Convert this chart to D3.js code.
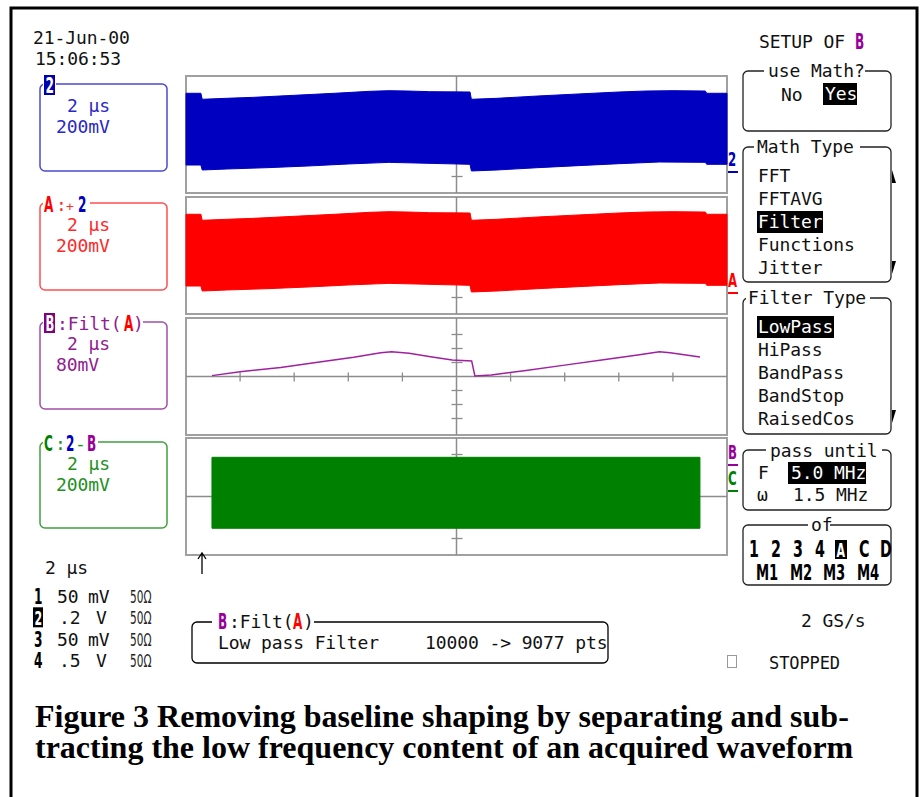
<!DOCTYPE html>
<html><head><meta charset="utf-8">
<script src="https://cdn.jsdelivr.net/npm/d3@7"></script>
<style>body{margin:0;background:#fff}</style>
</head><body>
<svg id="c" width="924" height="797"></svg>
<script>
// ---------------- DATA ----------------
// time in microseconds (2 us/div, 10 div), amplitude in mV
const timeTicks = [0, 2, 4, 6, 8, 10, 12, 14, 16, 18, 20];
// Channel 2 (and A = +2): envelope of the high-frequency burst
const ch2TopT  = [0, 0.55, 0.6, 1.5, 2.5, 4, 5.5, 6.8, 7.5, 8.2, 9, 10.5, 10.55, 11.5, 13, 14.5, 16, 17, 18, 19.2, 19.25, 20];
const ch2TopV  = [589, 589, 503, 517, 531, 560, 589, 617, 626, 621, 612, 607, 503, 517, 550, 579, 607, 621, 626, 621, 589, 589];
const ch2BotT  = [0, 0.55, 0.6, 1.5, 3, 4.5, 6, 7.5, 8.5, 10.5, 10.55, 11.5, 13, 14.5, 16, 17.5, 19.2, 19.25, 20];
const ch2BotV  = [-436, -436, -507, -493, -474, -450, -421, -398, -407, -426, -521, -507, -474, -445, -417, -393, -398, -426, -426];
// B = Filt(A): low-pass filtered trace
const filtT = [0.96, 2.0, 3.5, 5.0, 6.2, 7.2, 7.6, 8.25, 9.04, 9.84, 10.56, 10.68, 11.28, 12.5, 14, 15.5, 16.7, 17.5, 17.9, 19.0];
const filtV = [5, 27, 52, 84, 110, 136, 142, 133, 113, 94, 89, 3, 9, 33, 65, 97, 123, 142, 136, 111];
// C = 2 - B
const chCT   = [0.96, 19.0];
const chCTop = [560, 560];
const chCBot = [-454, -454];
// volts per division of each trace panel
const panelVdiv = [200, 200, 80, 200];
const mathTypes = ["FFT", "FFTAVG", "Filter", "Functions", "Jitter"];
const filterTypes = ["LowPass", "HiPass", "BandPass", "BandStop", "RaisedCos"];
const chanRows = [["1", "50", "mV"], ["2", ".2", "V"], ["3", "50", "mV"], ["4", ".5", "V"]];
const ofRow1 = ["1", "2", "3", "4", "A", "C", "D"];
const ofRow2 = ["M1", "M2", "M3", "M4"];

// ---------------- DRAW ----------------
const svg = d3.select("#c");
const MONO = "'DejaVu Sans Mono', monospace";
const SANS = "'DejaVu Sans', sans-serif";
const BLUE = "#0000c0", RED = "#ff0000", PURP = "#990099", GRN = "#008000";

svg.append("rect").attr("width", 924).attr("height", 797).attr("fill", "#fff");
svg.append("rect").attr("x", 11).attr("y", 8).attr("width", 906).attr("height", 820)
  .attr("fill", "none").attr("stroke", "#000").attr("stroke-width", 3);

function txt(x, y, s, o = {}) {
  return svg.append("text").attr("x", x).attr("y", y).text(s)
    .attr("font-family", o.ff || MONO).attr("font-size", o.fs || 18)
    .attr("font-weight", o.fw || "normal").attr("fill", o.fill || "#111")
    .attr("letter-spacing", o.ls != null ? o.ls : -0.1)
    .attr("xml:space", "preserve").style("white-space", "pre");
}
// narrow tall bold glyphs (scope label font)
function btxt(x, y, s, fill, fs, sx, o = {}) {
  return svg.append("text").attr("transform", `translate(${x},${y}) scale(${sx || 0.55},1)`)
    .text(s).attr("font-family", SANS).attr("font-weight", o.fw || "bold")
    .attr("font-size", fs || 22).attr("fill", fill).attr("letter-spacing", o.ls || 0)
    .attr("xml:space", "preserve").style("white-space", "pre");
}
function inv(x, y, w, h, s, bg, o = {}) {
  svg.append("rect").attr("x", x).attr("y", y).attr("width", w).attr("height", h).attr("fill", bg);
  return txt(x + (o.dx || 2), y + h - (o.dy || 4), s, Object.assign({ fill: "#fff" }, o));
}
function invB(x, y, w, h, s, bg, fs, sx) {
  svg.append("rect").attr("x", x).attr("y", y).attr("width", w).attr("height", h).attr("fill", bg);
  return btxt(x + 1.5, y + h - 2.5, s, "#fff", fs || 20, sx || 0.55);
}

// x scale shared by all panels
const X0 = 186, X1 = 727;
const x = d3.scaleLinear().domain([0, 20]).range([X0, X1]);
const panelTops = [76, 197, 318, 438];
const PH = 117;
const ys = panelTops.map((t, i) => d3.scaleLinear()
  .domain([-4 * panelVdiv[i], 4 * panelVdiv[i]])
  .range([t + PH / 2 + 56, t + PH / 2 - 56]));

// panels + graticule
panelTops.forEach((t, i) => {
  const g = svg.append("g");
  const y = ys[i];
  g.append("rect").attr("x", X0).attr("y", t).attr("width", X1 - X0).attr("height", PH)
    .attr("fill", "#fff").attr("stroke", "#a0a0a0").attr("stroke-width", 2);
  g.append("line").attr("x1", X0).attr("x2", X1).attr("y1", y(0)).attr("y2", y(0))
    .attr("stroke", "#8c8c8c").attr("stroke-width", 1.5);
  g.append("line").attr("x1", x(10)).attr("x2", x(10)).attr("y1", t).attr("y2", t + PH)
    .attr("stroke", "#8c8c8c").attr("stroke-width", 1.5);
  timeTicks.filter(v => v > 0 && v < 20 && v !== 10).forEach(v => {
    g.append("line").attr("x1", x(v)).attr("x2", x(v)).attr("y1", y(0) - 4).attr("y2", y(0) + 5)
      .attr("stroke", "#8c8c8c").attr("stroke-width", 1.3);
  });
  [-3, -2, -1, 1, 2, 3].forEach(d => {
    g.append("line").attr("x1", x(10) - 5).attr("x2", x(10) + 6)
      .attr("y1", y(d * panelVdiv[i])).attr("y2", y(d * panelVdiv[i]))
      .attr("stroke", "#8c8c8c").attr("stroke-width", 1.3);
  });
});

// band traces
function band(i, topT, topV, botT, botV, color) {
  const pts = topT.map((t, k) => [x(t), ys[i](topV[k])])
    .concat(botT.map((t, k) => [x(t), ys[i](botV[k])]).reverse());
  svg.append("path").attr("d", d3.line()(pts) + "Z").attr("fill", color)
    .attr("stroke", color).attr("stroke-width", 1);
}
band(0, ch2TopT, ch2TopV, ch2BotT, ch2BotV, BLUE);
band(1, ch2TopT, ch2TopV, ch2BotT, ch2BotV, RED);
band(3, chCT, chCTop, chCT, chCBot, GRN);
svg.append("path")
  .attr("d", d3.line().x((d, k) => x(filtT[k])).y((d, k) => ys[2](filtV[k]))(filtV))
  .attr("fill", "none").attr("stroke", "#a020a0").attr("stroke-width", 1.5);

// trace markers at right of panels
function marker(x0, yb, s, color) {
  btxt(x0, yb, s, color, 19, 0.62);
  svg.append("line").attr("x1", x0).attr("x2", x0 + 10).attr("y1", yb + 6).attr("y2", yb + 6)
    .attr("stroke", color).attr("stroke-width", 2);
}
marker(728, 166, "2", BLUE);
marker(728, 287, "A", RED);
marker(728, 459, "B", PURP);
marker(728, 485, "C", GRN);

// date/time
txt(33, 44, "21-Jun-00");
txt(35, 65, "15:06:53");

// left channel boxes
function box(x0, y0, x1, y1, color, sw) {
  svg.append("rect").attr("x", x0).attr("y", y0).attr("width", x1 - x0).attr("height", y1 - y0)
    .attr("rx", 5).attr("fill", "none").attr("stroke", color).attr("stroke-width", sw || 1.5);
}
function gap(x0, y0, w) {
  svg.append("rect").attr("x", x0).attr("y", y0 - 3).attr("width", w).attr("height", 6).attr("fill", "#fff");
}
// Box 2
box(40, 84, 167, 171, "#4a4ad0");
gap(43, 84, 13);
invB(44, 75, 11, 20, "2", "#0000b0", 21, 0.58);
txt(67, 112, "2 µs", { fill: "#2828c8" });
txt(56, 133, "200mV", { fill: "#2828c8" });
// Box A
box(40, 203, 167, 290, "#ff5050");
gap(43, 203, 47);
btxt(44, 212, "A", RED, 22);
txt(56, 211, ":", { fill: "#ff3030" });
txt(66, 211, "+", { fill: "#ff3030", fs: 13 });
btxt(78, 212, "2", BLUE, 22);
txt(67, 231, "2 µs", { fill: "#ff2828" });
txt(56, 252, "200mV", { fill: "#ff2828" });
// Box B
box(40, 322, 167, 409, "#a050a8");
gap(43, 322, 100);
invB(44, 313, 11, 20, "B", "#800080", 21, 0.55);
txt(57, 330, ":Filt(", { fill: "#902090" });
btxt(124, 331, "A", RED, 22);
txt(133, 330, ")", { fill: "#902090" });
txt(67, 350, "2 µs", { fill: "#902090" });
txt(56, 371, "80mV", { fill: "#902090" });
// Box C
box(40, 442, 167, 528, "#40a040");
gap(43, 442, 55);
btxt(44, 451, "C", GRN, 22);
txt(55, 450, ":", { fill: "#209020" });
btxt(66, 451, "2", BLUE, 22);
txt(75, 450, "-", { fill: "#209020" });
btxt(87, 451, "B", PURP, 22);
txt(67, 470, "2 µs", { fill: "#209020" });
txt(56, 491, "200mV", { fill: "#209020" });

// bottom-left timebase and channel list
txt(45, 574, "2 µs");
chanRows.forEach((r, k) => {
  const yb = 603 + k * 21.3;
  if (k === 1) invB(33, yb - 17, 10, 20, r[0], "#000", 20, 0.55);
  else btxt(34, yb + 1, r[0], "#000", 21, 0.58);
  if (r[1].startsWith(".")) txt(59, yb, r[1]); else txt(57, yb, r[1]);
  if (r[2] === "V") txt(96, yb, "V"); else txt(88, yb, "mV");
  btxt(130, yb, "50Ω", "#222", 17, 0.62, { fw: "normal" });
});

// trigger arrow
svg.append("path").attr("d", "M202,574 L202,554 M198,559 L202,553 L206,559")
  .attr("stroke", "#000").attr("stroke-width", 1.3).attr("fill", "none");

// bottom message box
box(192, 622, 608, 663, "#000", 1.3);
gap(212, 622, 102);
btxt(218, 629, "B", PURP, 22);
txt(229, 628, ":Filt(");
btxt(293, 629, "A", RED, 22);
txt(303, 628, ")");
txt(218, 649, "Low pass Filter");
txt(425, 649, "10000 -> 9077 pts");

// right menu
txt(759, 48, "SETUP OF");
btxt(855, 49, "B", PURP, 22);

box(743, 71, 891, 131, "#222", 1.3);
gap(764, 71, 101);
txt(768, 77, "use Math?");
txt(781, 101, "No");
inv(823, 83, 34, 22, "Yes", "#000", { dx: 2, dy: 5 });

box(743, 147, 891, 282, "#222", 1.3);
gap(754, 147, 106);
txt(757, 153, "Math Type");
mathTypes.forEach((m, k) => {
  const yb = 182 + k * 23;
  if (m === "Filter") inv(757, yb - 17, 66, 22, m, "#000", { dx: 1, dy: 5 });
  else txt(758, yb, m);
});
svg.append("path").attr("d", "M892,170 L896,183 L892,183 Z").attr("fill", "#000");
svg.append("path").attr("d", "M892,261 L896,261 L892,274 Z").attr("fill", "#000");

box(743, 298, 891, 434, "#222", 1.3);
gap(746, 298, 124);
txt(748, 304, "Filter Type");
filterTypes.forEach((m, k) => {
  const yb = 333 + k * 23;
  if (m === "LowPass") inv(757, yb - 17, 77, 22, m, "#000", { dx: 1, dy: 5 });
  else txt(758, yb, m);
});
svg.append("path").attr("d", "M892,410 L896,410 L892,423 Z").attr("fill", "#000");

box(743, 450, 891, 510, "#222", 1.3);
gap(766, 450, 116);
txt(770, 457, "pass until");
txt(758, 479, "F");
inv(788, 462, 78, 22, "5.0 MHz", "#000", { dx: 3, dy: 5 });
txt(757, 501, "ω", { fs: 18 });
txt(793, 501, "1.5 MHz");

box(743, 525, 891, 585, "#222", 1.3);
gap(808, 525, 22);
txt(811, 531, "of");
const ofX1 = [749, 771, 793, 815, 836, 859, 880];
ofRow1.forEach((s, k) => {
  if (s === "A") invB(835, 540, 12, 19, s, "#000", 20, 0.55);
  else btxt(ofX1[k], 557, s, "#000", 23, 0.62);
});
const ofX2 = [756, 790, 823, 857];
ofRow2.forEach((s, k) => btxt(ofX2[k], 580, s, "#000", 22, 0.6));

txt(801, 627, "2 GS/s");
svg.append("rect").attr("x", 727.5).attr("y", 655.5).attr("width", 9).attr("height", 12)
  .attr("fill", "none").attr("stroke", "#999").attr("stroke-width", 1);
txt(769, 669, "STOPPED", { fs: 17 });

// caption
const SERIF = "'Liberation Serif','Times New Roman',serif";
txt(35, 727, "Figure 3 Removing baseline shaping by separating and sub-",
  { ff: SERIF, fw: "bold", fs: 32, fill: "#000", ls: 0 });
txt(35, 758, "tracting the low frequency content of an acquired waveform",
  { ff: SERIF, fw: "bold", fs: 32, fill: "#000", ls: 0 });
</script>
</body></html>
